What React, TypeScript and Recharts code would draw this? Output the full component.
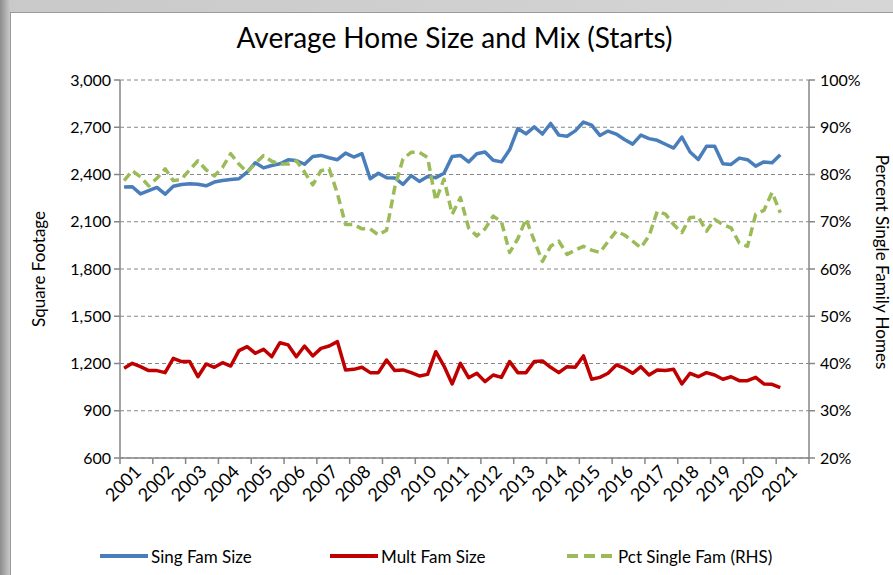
import { LineChart, Line, XAxis, YAxis, CartesianGrid, Label } from "recharts";

const YEARS = [
  "2001", "2002", "2003", "2004", "2005", "2006", "2007", "2008", "2009", "2010", "2011",
  "2012", "2013", "2014", "2015", "2016", "2017", "2018", "2019", "2020", "2021",
];

// quarterly, 2001 Q1 .. 2021 Q1
const SING_FAM = [
  2320, 2322, 2277, 2298, 2318, 2275, 2325, 2337, 2342, 2338,
  2328, 2352, 2362, 2368, 2373, 2415, 2475, 2442, 2457, 2468,
  2494, 2489, 2465, 2515, 2521, 2506, 2494, 2536, 2511, 2532,
  2373, 2408, 2380, 2378, 2337, 2393, 2356, 2387, 2380, 2408,
  2515, 2521, 2480, 2532, 2543, 2490, 2480, 2557, 2692, 2658,
  2702, 2657, 2724, 2650, 2643, 2677, 2733, 2713, 2648, 2676,
  2657, 2622, 2593, 2650, 2628, 2617, 2592, 2568, 2638, 2543,
  2495, 2579, 2579, 2468, 2464, 2504, 2494, 2453, 2480, 2474,
  2526,
];

const MULT_FAM = [
  1170, 1201, 1180, 1155, 1155, 1142, 1233, 1212, 1212, 1116,
  1197, 1176, 1205, 1184, 1282, 1307, 1265, 1290, 1243, 1332,
  1318, 1243, 1311, 1248, 1296, 1311, 1339, 1159, 1163, 1176,
  1142, 1142, 1222, 1155, 1159, 1142, 1121, 1131, 1275, 1184,
  1070, 1201, 1110, 1138, 1085, 1127, 1112, 1212, 1142, 1142,
  1212, 1216, 1176, 1142, 1180, 1176, 1248, 1100, 1112, 1138,
  1191, 1170, 1138, 1180, 1127, 1159, 1155, 1163, 1070, 1138,
  1116, 1142, 1127, 1100, 1116, 1091, 1091, 1112, 1070, 1068,
  1047,
];

const PCT_SINGLE = [
  78.7, 80.8, 79.5, 77.6, 79.2, 81.2, 78.7, 79.0, 81.0, 82.9,
  81.0, 79.7, 81.5, 84.4, 82.2, 80.5, 82.3, 84.0, 82.8, 82.2,
  82.2, 82.9, 80.5, 77.8, 80.8, 81.2, 76.0, 69.4, 69.4, 68.5,
  68.5, 67.2, 68.2, 77.3, 83.3, 84.7, 84.7, 83.6, 74.5, 79.0,
  71.6, 75.1, 68.7, 67.0, 68.5, 71.2, 70.0, 63.5, 66.4, 70.6,
  66.0, 61.6, 64.8, 65.9, 63.1, 64.0, 64.8, 64.0, 63.5, 65.8,
  68.0, 67.2, 65.9, 64.5, 67.0, 72.2, 71.6, 69.4, 67.7, 70.9,
  71.0, 68.0, 70.5, 69.4, 68.7, 65.5, 64.8, 71.6, 72.4, 76.2,
  71.9,
];

const LEFT_TICKS = [600, 900, 1200, 1500, 1800, 2100, 2400, 2700, 3000];
const RIGHT_TICKS = [20, 30, 40, 50, 60, 70, 80, 90, 100];
const YEAR_BOUNDS = [...YEARS.map((_, i) => i * 4), YEARS.length * 4];

const W = 893;
const H = 575;
const LEFT_W = 120;
const RIGHT_W = 84;
const TOP = 80;
const X_AXIS_H = 117;
const QUARTERS = YEARS.length * 4;
const HALF_YEAR = ((W - LEFT_W - RIGHT_W) / QUARTERS) * 2;

const FONT = "Lato, 'Open Sans', sans-serif";
const AXIS_GRAY = "#868686";
const BLUE = "#4a7ebb";
const RED = "#c00000";
const GREEN = "#9bbb59";

const data = SING_FAM.map((v, i) => ({
  q: i + 0.5,
  sing: v,
  mult: MULT_FAM[i],
  pct: PCT_SINGLE[i],
}));

function YearTick({ x, y, payload }: any) {
  const label = YEARS[payload.value / 4];
  if (!label) return null;
  const cx = x + HALF_YEAR - 3;
  const cy = y - 2;
  return (
    <text
      x={cx}
      y={cy}
      dy="0.7em"
      transform={`rotate(-45 ${cx} ${cy})`}
      textAnchor="end"
      fontSize={18}
      fontFamily={FONT}
      fill="#000"
    >
      {label}
    </text>
  );
}

function LegendItem({ color, dashed, text, left }: { color: string; dashed?: boolean; text: string; left: number }) {
  return (
    <div style={{ position: "absolute", left, top: 545, display: "flex", alignItems: "center" }}>
      <svg width={50} height={22}>
        <line
          x1={1}
          x2={49}
          y1={11}
          y2={11}
          stroke={color}
          strokeWidth={4}
          strokeDasharray={dashed ? "11 6" : undefined}
        />
      </svg>
      <span style={{ fontFamily: FONT, fontSize: 17, color: "#000", marginLeft: 2 }}>{text}</span>
    </div>
  );
}

export default function App() {
  const tickStyle = { fontSize: 16, fill: "#000", fontFamily: FONT };
  return (
    <div
      style={{
        position: "absolute",
        left: 0,
        top: 0,
        width: W,
        height: H,
        overflow: "hidden",
        background: "linear-gradient(90deg, #8c8c8c 0px, #c9c9c9 10px, #d6d6d6 100%)",
      }}
    >
      <div
        style={{
          position: "absolute",
          left: 10,
          top: 12,
          right: 0,
          bottom: 0,
          background: "#fff",
          borderLeft: "1px solid #9a9a9a",
          borderTop: "1px solid #9a9a9a",
        }}
      />
      <div
        style={{
          position: "absolute",
          left: 8,
          top: 20,
          width: W,
          textAlign: "center",
          fontFamily: FONT,
          fontSize: 28,
          color: "#000",
        }}
      >
        Average Home Size and Mix (Starts)
      </div>
      <div style={{ position: "absolute", left: 0, top: 0 }}>
        <LineChart width={W} height={H} data={data} margin={{ top: TOP, right: 0, bottom: 0, left: 0 }}>
          <CartesianGrid vertical={false} stroke={AXIS_GRAY} strokeDasharray="4 3" yAxisId="left" />
          <XAxis
            dataKey="q"
            type="number"
            domain={[0, QUARTERS]}
            ticks={YEAR_BOUNDS}
            interval={0}
            height={X_AXIS_H}
            axisLine={{ stroke: AXIS_GRAY, strokeWidth: 1.5 }}
            tickLine={{ stroke: AXIS_GRAY, strokeWidth: 1.5 }}
            tickSize={6}
            tick={<YearTick />}
          />
          <YAxis
            yAxisId="left"
            orientation="left"
            width={LEFT_W}
            domain={[600, 3000]}
            ticks={LEFT_TICKS}
            interval={0}
            axisLine={{ stroke: AXIS_GRAY, strokeWidth: 1.5 }}
            tickLine={{ stroke: AXIS_GRAY, strokeWidth: 1.5 }}
            tickSize={6}
            tickMargin={3}
            tick={tickStyle}
            tickFormatter={(v: number) => v.toLocaleString("en-US")}
          >
            <Label
              content={() => (
                <text
                  x={38}
                  y={269}
                  transform="rotate(-90 38 269)"
                  textAnchor="middle"
                  dominantBaseline="central"
                  fontSize={17}
                  fontFamily={FONT}
                  fill="#000"
                >
                  Square Footage
                </text>
              )}
            />
          </YAxis>
          <YAxis
            yAxisId="right"
            orientation="right"
            width={RIGHT_W}
            domain={[20, 100]}
            ticks={RIGHT_TICKS}
            interval={0}
            axisLine={{ stroke: AXIS_GRAY, strokeWidth: 1.5 }}
            tickLine={{ stroke: AXIS_GRAY, strokeWidth: 1.5 }}
            tickSize={6}
            tickMargin={5}
            tick={tickStyle}
            tickFormatter={(v: number) => `${v}%`}
          >
            <Label
              content={() => (
                <text
                  x={876}
                  y={262}
                  transform="rotate(90 876 262)"
                  textAnchor="middle"
                  fontSize={17}
                  fontFamily={FONT}
                  fill="#000"
                >
                  Percent Single Family Homes
                </text>
              )}
            />
          </YAxis>
          <Line
            yAxisId="left"
            dataKey="sing"
            type="linear"
            stroke={BLUE}
            strokeWidth={3.5}
            strokeLinejoin="round"
            dot={false}
            isAnimationActive={false}
          />
          <Line
            yAxisId="left"
            dataKey="mult"
            type="linear"
            stroke={RED}
            strokeWidth={3.5}
            strokeLinejoin="round"
            dot={false}
            isAnimationActive={false}
          />
          <Line
            yAxisId="right"
            dataKey="pct"
            type="linear"
            stroke={GREEN}
            strokeWidth={3.5}
            strokeDasharray="9 5"
            strokeLinejoin="round"
            dot={false}
            isAnimationActive={false}
          />
        </LineChart>
      </div>
      <LegendItem color={BLUE} text="Sing Fam Size" left={99} />
      <LegendItem color={RED} text="Mult Fam Size" left={329} />
      <LegendItem color={GREEN} dashed text="Pct Single Fam (RHS)" left={566} />
    </div>
  );
}
